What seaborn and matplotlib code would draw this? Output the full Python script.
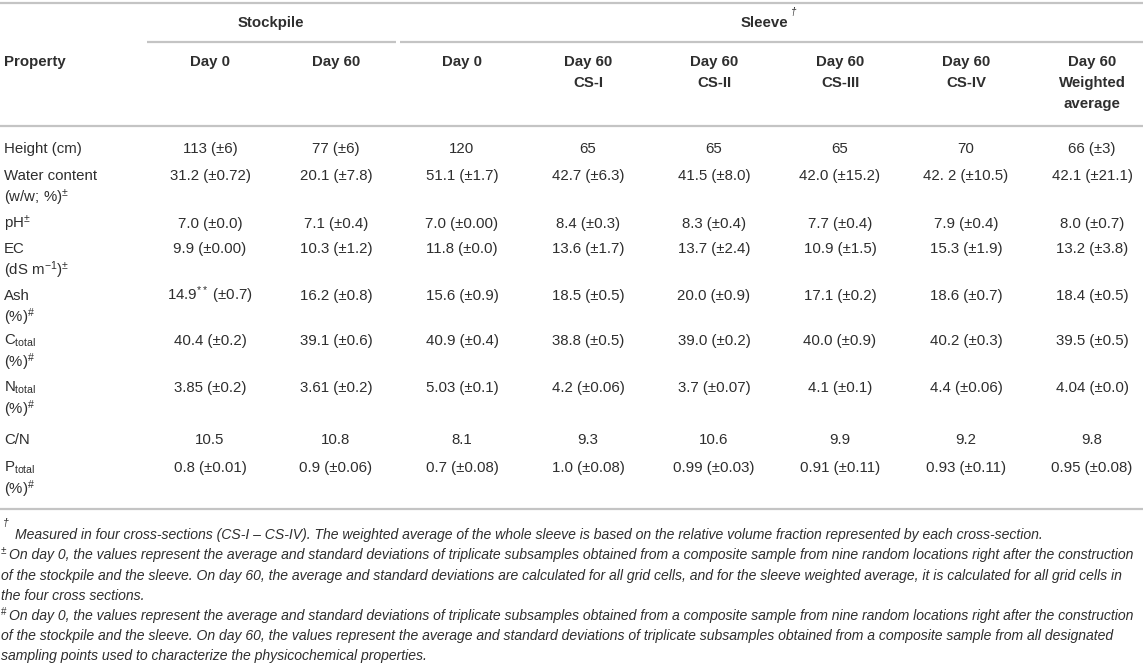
import matplotlib
matplotlib.use("Agg")
import matplotlib.pyplot as plt
import seaborn as sns

# table content
properties = [
    ["Height (cm)"],
    ["Water content", "(w/w; %)$^{\\pm}$"],
    ["pH$^{\\pm}$"],
    ["EC", "(dS m$^{-1}$)$^{\\pm}$"],
    ["Ash", "(%)$^{\\#}$"],
    ["C$_{\\mathrm{total}}$", "(%)$^{\\#}$"],
    ["N$_{\\mathrm{total}}$", "(%)$^{\\#}$"],
    ["C/N"],
    ["P$_{\\mathrm{total}}$", "(%)$^{\\#}$"],
]
col_headers = [
    ["Day 0"], ["Day 60"], ["Day 0"],
    ["Day 60", "CS-I"], ["Day 60", "CS-II"], ["Day 60", "CS-III"],
    ["Day 60", "CS-IV"], ["Day 60", "Weighted", "average"],
]
stock_day0 = ["113 (±6)", "31.2 (±0.72)", "7.0 (±0.0)", "9.9 (±0.00)", "14.9$^{**}$ (±0.7)",
              "40.4 (±0.2)", "3.85 (±0.2)", "10.5", "0.8 (±0.01)"]
stock_day60 = ["77 (±6)", "20.1 (±7.8)", "7.1 (±0.4)", "10.3 (±1.2)", "16.2 (±0.8)",
               "39.1 (±0.6)", "3.61 (±0.2)", "10.8", "0.9 (±0.06)"]
sleeve_day0 = ["120", "51.1 (±1.7)", "7.0 (±0.00)", "11.8 (±0.0)", "15.6 (±0.9)",
               "40.9 (±0.4)", "5.03 (±0.1)", "8.1", "0.7 (±0.08)"]
cs1 = ["65", "42.7 (±6.3)", "8.4 (±0.3)", "13.6 (±1.7)", "18.5 (±0.5)",
       "38.8 (±0.5)", "4.2 (±0.06)", "9.3", "1.0 (±0.08)"]
cs2 = ["65", "41.5 (±8.0)", "8.3 (±0.4)", "13.7 (±2.4)", "20.0 (±0.9)",
       "39.0 (±0.2)", "3.7 (±0.07)", "10.6", "0.99 (±0.03)"]
cs3 = ["65", "42.0 (±15.2)", "7.7 (±0.4)", "10.9 (±1.5)", "17.1 (±0.2)",
       "40.0 (±0.9)", "4.1 (±0.1)", "9.9", "0.91 (±0.11)"]
cs4 = ["70", "42. 2 (±10.5)", "7.9 (±0.4)", "15.3 (±1.9)", "18.6 (±0.7)",
       "40.2 (±0.3)", "4.4 (±0.06)", "9.2", "0.93 (±0.11)"]
weighted = ["66 (±3)", "42.1 (±21.1)", "8.0 (±0.7)", "13.2 (±3.8)", "18.4 (±0.5)",
            "39.5 (±0.5)", "4.04 (±0.0)", "9.8", "0.95 (±0.08)"]
columns = [stock_day0, stock_day60, sleeve_day0, cs1, cs2, cs3, cs4, weighted]

footnotes = [
    ("†", "Measured in four cross-sections (CS-I – CS-IV). The weighted average of the whole sleeve is based on the relative volume fraction represented by each cross-section."),
    ("±", "On day 0, the values represent the average and standard deviations of triplicate subsamples obtained from a composite sample from nine random locations right after the construction"),
    ("", "of the stockpile and the sleeve. On day 60, the average and standard deviations are calculated for all grid cells, and for the sleeve weighted average, it is calculated for all grid cells in"),
    ("", "the four cross sections."),
    ("#", "On day 0, the values represent the average and standard deviations of triplicate subsamples obtained from a composite sample from nine random locations right after the construction"),
    ("", "of the stockpile and the sleeve. On day 60, the values represent the average and standard deviations of triplicate subsamples obtained from a composite sample from all designated"),
    ("", "sampling points used to characterize the physicochemical properties."),
]

sns.set_theme(style="white")
plt.rcParams['font.family'] = ['Liberation Sans', 'DejaVu Sans']
plt.rcParams['mathtext.fontset'] = 'custom'
plt.rcParams['mathtext.rm'] = 'Liberation Sans'
plt.rcParams['mathtext.it'] = 'Liberation Sans:italic'
plt.rcParams['mathtext.bf'] = 'Liberation Sans:bold'

W, H = 1143, 666
fig = plt.figure(figsize=(W / 100, H / 100), dpi=100)
ax = fig.add_axes([0, 0, 1, 1])
ax.set_xlim(0, W)
ax.set_ylim(H, 0)
ax.axis('off')

txt = '#2e2e2e'
rule = '#c4c4c4'
fs = 10.8
col_x = [210 + 126 * i for i in range(8)]

# rules
ax.hlines([3, 126, 509], 0, W, color=rule, lw=1.6)
ax.hlines(42, 147, 396, color=rule, lw=1.6)
ax.hlines(42, 400, W, color=rule, lw=1.6)

# group headers
ax.text(271, 23, "Stockpile", ha='center', va='center', fontsize=fs, fontweight='bold', color=txt)
ax.text(764, 23, "Sleeve", ha='center', va='center', fontsize=fs, fontweight='bold', color=txt)
ax.text(791, 12, "†", ha='left', va='center', fontsize=7, style='italic', color=txt)

# column headers
head_y = [62, 83, 104]
ax.text(4, head_y[0], "Property", ha='left', va='center', fontsize=fs, fontweight='bold', color=txt)
for x, lines in zip(col_x, col_headers):
    for y, s in zip(head_y, lines):
        ax.text(x, y, s, ha='center', va='center', fontsize=fs, fontweight='bold', color=txt)

# body rows
row_y = [148, 175, 223, 248, 295, 340, 387, 439, 467]
for i, (y, prop) in enumerate(zip(row_y, properties)):
    for k, s in enumerate(prop):
        ax.text(4, y + 5 + 22 * k, s, ha='left', va='baseline', fontsize=fs, color=txt)
    for x, col in zip(col_x, columns):
        ax.text(x, y + 5, col[i], ha='center', va='baseline', fontsize=fs, color=txt)

# footnotes
fn = 10.1
foot_y = [535, 555, 576, 596, 616, 636, 656]
for y, (mark, s) in zip(foot_y, footnotes):
    if mark == "†":
        ax.text(3, y - 12, mark, ha='left', va='center', fontsize=7.5, style='italic', color=txt)
        ax.text(15, y, s, ha='left', va='center', fontsize=fn, style='italic', color=txt)
    elif mark:
        ax.text(1, y - 4, mark, ha='left', va='center', fontsize=7, color=txt)
        ax.text(9, y, s, ha='left', va='center', fontsize=fn, style='italic', color=txt)
    else:
        ax.text(1, y, s, ha='left', va='center', fontsize=fn, style='italic', color=txt)

fig.savefig("out.png", dpi=100, facecolor='white')
